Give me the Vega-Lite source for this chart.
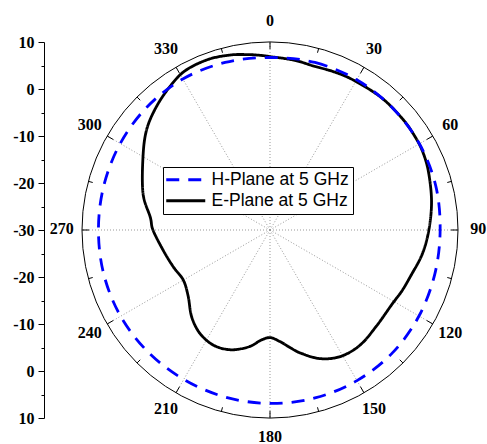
{
  "$schema": "https://vega.github.io/schema/vega-lite/v6.json",
  "width": 376,
  "height": 376,
  "autosize": "none",
  "padding": {"left": 82, "top": 42, "right": 29, "bottom": 26},
  "background": "white",
  "config": {"view": {"stroke": null}},
  "datasets": {
    "angles30": [
      {"angle": 0}, {"angle": 30}, {"angle": 60}, {"angle": 90}, {"angle": 120}, {"angle": 150},
      {"angle": 180}, {"angle": 210}, {"angle": 240}, {"angle": 270}, {"angle": 300}, {"angle": 330}
    ],
    "angles15": [
      {"angle": 0}, {"angle": 15}, {"angle": 30}, {"angle": 45}, {"angle": 60}, {"angle": 75},
      {"angle": 90}, {"angle": 105}, {"angle": 120}, {"angle": 135}, {"angle": 150}, {"angle": 165},
      {"angle": 180}, {"angle": 195}, {"angle": 210}, {"angle": 225}, {"angle": 240}, {"angle": 255},
      {"angle": 270}, {"angle": 285}, {"angle": 300}, {"angle": 315}, {"angle": 330}, {"angle": 345}
    ],
    "pattern": [
      {"series": "E-Plane at 5 GHz", "angle": 0, "db": 6.9},
      {"series": "E-Plane at 5 GHz", "angle": 8, "db": 6.5},
      {"series": "E-Plane at 5 GHz", "angle": 15, "db": 6.1},
      {"series": "E-Plane at 5 GHz", "angle": 22, "db": 6.3},
      {"series": "E-Plane at 5 GHz", "angle": 29, "db": 6.5},
      {"series": "E-Plane at 5 GHz", "angle": 40, "db": 6.8},
      {"series": "E-Plane at 5 GHz", "angle": 50, "db": 6.8},
      {"series": "E-Plane at 5 GHz", "angle": 57, "db": 6.7},
      {"series": "E-Plane at 5 GHz", "angle": 63, "db": 6.5},
      {"series": "E-Plane at 5 GHz", "angle": 70, "db": 5.9},
      {"series": "E-Plane at 5 GHz", "angle": 80, "db": 4.9},
      {"series": "E-Plane at 5 GHz", "angle": 90, "db": 3.8},
      {"series": "E-Plane at 5 GHz", "angle": 99, "db": 2.8},
      {"series": "E-Plane at 5 GHz", "angle": 108, "db": 1.5},
      {"series": "E-Plane at 5 GHz", "angle": 115, "db": 0.9},
      {"series": "E-Plane at 5 GHz", "angle": 121, "db": 0.4},
      {"series": "E-Plane at 5 GHz", "angle": 132, "db": 0.5},
      {"series": "E-Plane at 5 GHz", "angle": 142, "db": 1.1},
      {"series": "E-Plane at 5 GHz", "angle": 151, "db": 0.8},
      {"series": "E-Plane at 5 GHz", "angle": 159, "db": -0.7},
      {"series": "E-Plane at 5 GHz", "angle": 166, "db": -3.0},
      {"series": "E-Plane at 5 GHz", "angle": 170, "db": -4.5},
      {"series": "E-Plane at 5 GHz", "angle": 175, "db": -6.2},
      {"series": "E-Plane at 5 GHz", "angle": 180, "db": -7.1},
      {"series": "E-Plane at 5 GHz", "angle": 185, "db": -6.4},
      {"series": "E-Plane at 5 GHz", "angle": 190, "db": -4.8},
      {"series": "E-Plane at 5 GHz", "angle": 198, "db": -3.2},
      {"series": "E-Plane at 5 GHz", "angle": 206, "db": -2.7},
      {"series": "E-Plane at 5 GHz", "angle": 214, "db": -3.4},
      {"series": "E-Plane at 5 GHz", "angle": 222, "db": -5.1},
      {"series": "E-Plane at 5 GHz", "angle": 231, "db": -7.6},
      {"series": "E-Plane at 5 GHz", "angle": 240, "db": -8.7},
      {"series": "E-Plane at 5 GHz", "angle": 249, "db": -8.0},
      {"series": "E-Plane at 5 GHz", "angle": 259, "db": -6.9},
      {"series": "E-Plane at 5 GHz", "angle": 270, "db": -5.1},
      {"series": "E-Plane at 5 GHz", "angle": 276, "db": -4.4},
      {"series": "E-Plane at 5 GHz", "angle": 286, "db": -1.9},
      {"series": "E-Plane at 5 GHz", "angle": 300, "db": 1.2},
      {"series": "E-Plane at 5 GHz", "angle": 309, "db": 3.8},
      {"series": "E-Plane at 5 GHz", "angle": 317, "db": 5.6},
      {"series": "E-Plane at 5 GHz", "angle": 325, "db": 7.2},
      {"series": "E-Plane at 5 GHz", "angle": 332, "db": 8.4},
      {"series": "E-Plane at 5 GHz", "angle": 340, "db": 8.6},
      {"series": "E-Plane at 5 GHz", "angle": 347, "db": 8.2},
      {"series": "E-Plane at 5 GHz", "angle": 352, "db": 7.7},
      {"series": "E-Plane at 5 GHz", "angle": 356, "db": 7.3},
      {"series": "H-Plane at 5 GHz", "angle": 0, "db": 6.7},
      {"series": "H-Plane at 5 GHz", "angle": 15, "db": 6.9},
      {"series": "H-Plane at 5 GHz", "angle": 30, "db": 6.9},
      {"series": "H-Plane at 5 GHz", "angle": 45, "db": 6.8},
      {"series": "H-Plane at 5 GHz", "angle": 60, "db": 6.7},
      {"series": "H-Plane at 5 GHz", "angle": 75, "db": 6.5},
      {"series": "H-Plane at 5 GHz", "angle": 90, "db": 6.2},
      {"series": "H-Plane at 5 GHz", "angle": 105, "db": 6.3},
      {"series": "H-Plane at 5 GHz", "angle": 120, "db": 6.6},
      {"series": "H-Plane at 5 GHz", "angle": 135, "db": 6.9},
      {"series": "H-Plane at 5 GHz", "angle": 150, "db": 7.0},
      {"series": "H-Plane at 5 GHz", "angle": 165, "db": 7.0},
      {"series": "H-Plane at 5 GHz", "angle": 180, "db": 6.9},
      {"series": "H-Plane at 5 GHz", "angle": 195, "db": 6.8},
      {"series": "H-Plane at 5 GHz", "angle": 210, "db": 6.7},
      {"series": "H-Plane at 5 GHz", "angle": 225, "db": 6.7},
      {"series": "H-Plane at 5 GHz", "angle": 240, "db": 6.7},
      {"series": "H-Plane at 5 GHz", "angle": 255, "db": 6.6},
      {"series": "H-Plane at 5 GHz", "angle": 270, "db": 6.5},
      {"series": "H-Plane at 5 GHz", "angle": 285, "db": 6.6},
      {"series": "H-Plane at 5 GHz", "angle": 300, "db": 6.8},
      {"series": "H-Plane at 5 GHz", "angle": 315, "db": 7.0},
      {"series": "H-Plane at 5 GHz", "angle": 330, "db": 7.1},
      {"series": "H-Plane at 5 GHz", "angle": 345, "db": 6.9}
    ]
  },
  "encoding": {
    "x": {"field": "x", "type": "quantitative", "scale": {"domain": [-40, 40], "nice": false, "zero": false}, "axis": null},
    "y": {
      "field": "y", "type": "quantitative",
      "scale": {"domain": [-40, 40], "nice": false, "zero": false},
      "axis": {
        "title": null, "orient": "left", "offset": 38, "grid": false,
        "values": [-40, -35, -30, -25, -20, -15, -10, -5, 0, 5, 10, 15, 20, 25, 30, 35, 40],
        "domainColor": "black", "domainWidth": 1, "tickColor": "black", "tickWidth": 1,
        "tickSize": {"condition": {"test": "datum.value % 10 === 0", "value": 6}, "value": 3},
        "labelExpr": "datum.value % 10 === 0 ? '' + (abs(datum.value) - 30) : ''",
        "labelFont": "Liberation Serif", "labelFontWeight": "bold", "labelFontSize": 16,
        "labelColor": "black", "labelPadding": 4, "labelOverlap": false, "labelBound": false, "labelFlush": false
      }
    }
  },
  "layer": [
    {
      "data": {"name": "angles30"},
      "transform": [
        {"calculate": "0", "as": "x"},
        {"calculate": "0", "as": "y"},
        {"calculate": "40 * sin(datum.angle * PI / 180)", "as": "x2"},
        {"calculate": "40 * cos(datum.angle * PI / 180)", "as": "y2"}
      ],
      "mark": {"type": "rule", "color": "#999999", "strokeWidth": 1, "strokeDash": [1, 2]},
      "encoding": {"x2": {"field": "x2"}, "y2": {"field": "y2"}}
    },
    {
      "data": {"values": [{"x": 0, "y": 0}]},
      "mark": {"type": "point", "shape": "circle", "filled": false, "stroke": "black", "strokeWidth": 1, "opacity": 1},
      "encoding": {"size": {"value": 141376}}
    },
    {
      "data": {"name": "angles15"},
      "transform": [
        {"calculate": "40 * sin(datum.angle * PI / 180)", "as": "x"},
        {"calculate": "40 * cos(datum.angle * PI / 180)", "as": "y"},
        {"calculate": "(datum.angle % 30 === 0 ? 38.5 : 39.05) * sin(datum.angle * PI / 180)", "as": "x2"},
        {"calculate": "(datum.angle % 30 === 0 ? 38.5 : 39.05) * cos(datum.angle * PI / 180)", "as": "y2"}
      ],
      "mark": {"type": "rule", "color": "black", "strokeWidth": 1},
      "encoding": {"x2": {"field": "x2"}, "y2": {"field": "y2"}}
    },
    {
      "data": {"name": "pattern"},
      "transform": [
        {"calculate": "(datum.db + 30) * sin(datum.angle * PI / 180)", "as": "x"},
        {"calculate": "(datum.db + 30) * cos(datum.angle * PI / 180)", "as": "y"}
      ],
      "mark": {"type": "line", "interpolate": "cardinal-closed", "strokeWidth": 2.8},
      "encoding": {
        "order": {"field": "angle", "type": "quantitative"},
        "color": {
          "field": "series", "type": "nominal",
          "scale": {"domain": ["H-Plane at 5 GHz", "E-Plane at 5 GHz"], "range": ["#0000ff", "#000000"]},
          "legend": {
            "title": null, "orient": "none", "legendX": 81, "legendY": 125,
            "symbolType": "M-3,0H3", "symbolSize": 169, "symbolStrokeWidth": 3,
            "symbolOffset": 10, "labelOffset": 17,
            "labelFont": "Liberation Sans", "labelFontSize": 17.5, "labelColor": "black", "labelLimit": 400,
            "padding": 4, "rowPadding": 2, "strokeColor": "black", "fillColor": "white", "cornerRadius": 0
          }
        },
        "strokeDash": {
          "field": "series", "type": "nominal",
          "scale": {"domain": ["H-Plane at 5 GHz", "E-Plane at 5 GHz"], "range": [[13, 9], [1, 0]]},
          "legend": {
            "title": null, "orient": "none", "legendX": 81, "legendY": 125,
            "symbolType": "M-3,0H3", "symbolSize": 169, "symbolStrokeWidth": 3,
            "symbolOffset": 10, "labelOffset": 17,
            "labelFont": "Liberation Sans", "labelFontSize": 17.5, "labelColor": "black", "labelLimit": 400,
            "padding": 4, "rowPadding": 2, "strokeColor": "black", "fillColor": "white", "cornerRadius": 0
          }
        }
      }
    },
    {
      "data": {"name": "angles30"},
      "transform": [
        {"calculate": "44.3 * sin(datum.angle * PI / 180)", "as": "x"},
        {"calculate": "44.3 * cos(datum.angle * PI / 180)", "as": "y"}
      ],
      "mark": {"type": "text", "font": "Liberation Serif", "fontWeight": "bold", "fontSize": 16, "color": "black", "align": "center", "baseline": "middle", "dy": -1},
      "encoding": {"text": {"field": "angle", "type": "nominal"}}
    }
  ]
}
